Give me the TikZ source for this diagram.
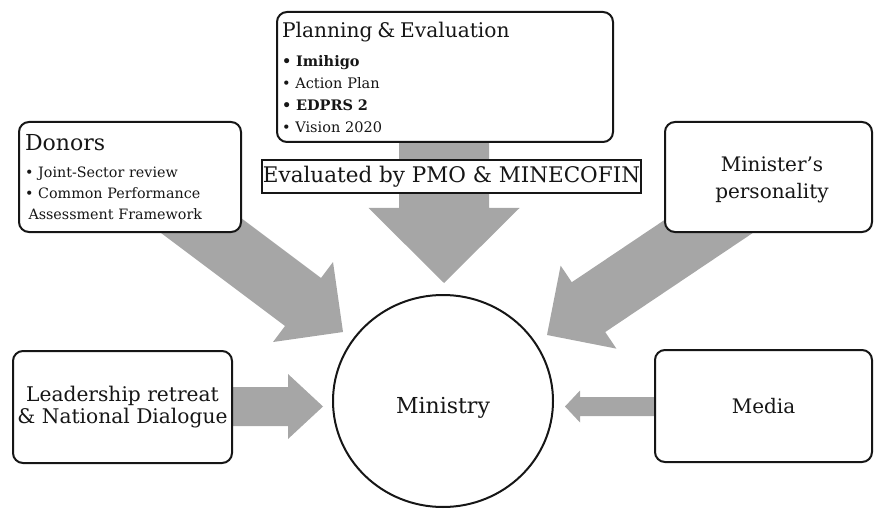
\documentclass[tikz,border=0pt]{standalone}
\usepackage{fontspec}
\setmainfont{DejaVu Serif}
\usetikzlibrary{calc,shapes.geometric}

\definecolor{arrowgray}{RGB}{166,166,166}
\definecolor{ink}{RGB}{22,22,22}

% font size helper
\newcommand\fsz[2]{\fontsize{#1}{#2}\selectfont}

% broad block arrow: tail, tip, shaft half-width, head half-width, head length
\newcommand\blockarrow[5]{%
  \path ($(#2)!#5!(#1)$) coordinate (neck);
  \fill[fatarrow]
    ($(#1)!#3!90:(#2)$) -- ($(neck)!#3!-90:(#1)$) -- ($(neck)!#4!-90:(#1)$)
    -- (#2) -- ($(neck)!#4!90:(#1)$) -- ($(neck)!#3!90:(#1)$)
    -- ($(#1)!#3!-90:(#2)$) -- cycle;
}

\begin{document}
\begin{tikzpicture}[x=1pt,y=-1pt,
  fatarrow/.style={fill=arrowgray},
  card/.style={draw=ink, line width=2pt, rounded corners=10pt, fill=white,
               inner sep=0pt, text=ink},
  banner/.style={draw=ink, line width=1.1pt, fill=white, inner sep=0pt, text=ink},
  hub/.style={ellipse, draw=ink, line width=2pt, fill=white, inner sep=0pt,
              minimum width=220pt, minimum height=212pt, text=ink}]

\useasboundingbox (0,0) rectangle (875,513);

% ---- anchor points of the block arrows
\coordinate (planTail) at (444,100);
\coordinate (planTip)  at (444,283);
\coordinate (donTail)  at (143,182);
\coordinate (donTip)   at (343,332);
\coordinate (minTail)  at (754,196);
\coordinate (minTip)   at (547,335);
\coordinate (leadTail) at (200,406.5);
\coordinate (leadTip)  at (323,406.5);
\coordinate (medTail)  at (700,406.5);
\coordinate (medTip)   at (565,406.5);

% ---- block arrows (drawn first, boxes sit on top)
\blockarrow{planTail}{planTip}{45pt}{75.5pt}{75pt}
\blockarrow{donTail}{donTip}{30pt}{50pt}{50pt}
\blockarrow{minTail}{minTip}{30pt}{50pt}{50pt}
\blockarrow{leadTail}{leadTip}{19.5pt}{32.5pt}{35pt}
\blockarrow{medTail}{medTip}{9.5pt}{16pt}{15pt}

% ---- central node
\node[hub, font=\fsz{22}{26}, text height=29pt, text depth=5pt]
  (ministry) at (443,401) {Ministry};

% ---- surrounding boxes
\node[card, minimum width=336pt, minimum height=130pt, text width=326pt,
      align=left, font=\fsz{14.5}{22}] (plan) at (445,77)
  {{\fsz{20.2}{22}Planning \& Evaluation}\\[7pt]
   \textbf{• Imihigo}\\
   • Action Plan\\
   \textbf{• EDPRS 2}\\
   • Vision 2020};

\node[banner, minimum width=379pt, minimum height=33pt, font=\fsz{21.5}{24}]
  (evaluated) at (451.5,176.5) {Evaluated by PMO \& MINECOFIN};

\node[card, minimum width=222pt, minimum height=110pt, text width=210pt,
      align=left, font=\fsz{14.3}{21}] (donors) at (130,177)
  {{\fsz{22}{22}Donors}\\[6pt]
   • Joint-Sector review\\
   • Common Performance\\
   \hspace*{3.5pt}Assessment Framework};

\node[card, minimum width=207pt, minimum height=110pt, align=center,
      font=\fsz{20}{27}] (minister) at (768.5,177)
  {\rule{0pt}{21pt}\hspace*{7pt}Minister’s\\\hspace*{7pt}personality};

\node[card, minimum width=219pt, minimum height=112pt, align=center,
      font=\fsz{20.2}{22.5}] (leader) at (122.5,407)
  {Leadership retreat\\\& National Dialogue};

\node[card, minimum width=217pt, minimum height=112pt, font=\fsz{20}{24}]
  (media) at (763.5,406) {Media};

\end{tikzpicture}
\end{document}
